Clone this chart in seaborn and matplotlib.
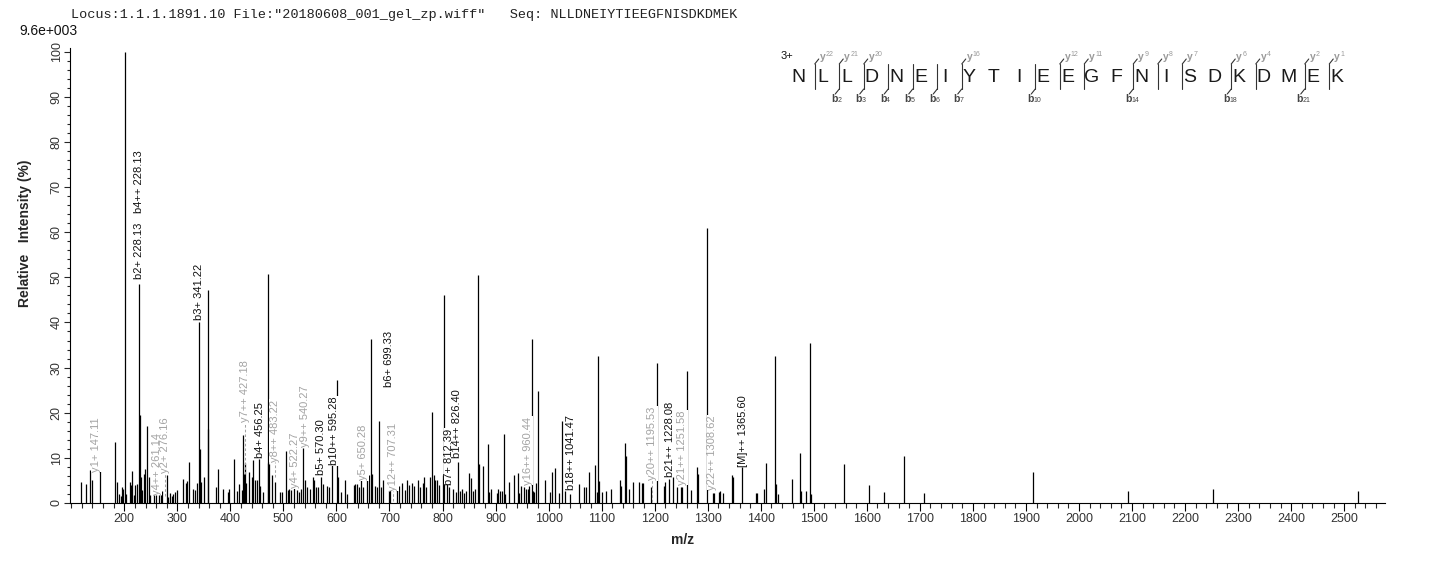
import numpy as np
import pandas as pd
import matplotlib
matplotlib.use("Agg")
import matplotlib.pyplot as plt
import seaborn as sns
from matplotlib.ticker import MultipleLocator, FixedLocator

HEADER = 'Locus:1.1.1.1891.10 File:"20180608_001_gel_zp.wiff"   Seq: NLLDNEIYTIEEGFNISDKDMEK'
BASE_PEAK = "9.6e+003"
SEQUENCE = "NLLDNEIYTIEEGFNISDKDMEK"
CHARGE = "3+"

# peak list (m/z, relative intensity %)
peak_mz = [
    118.3, 128.3, 135.9, 139.0, 154.7, 182.5, 186.2, 190.0, 193.0, 195.0, 197.5, 201.0, 202.6,
    210.0, 212.6, 215.0, 217.7, 220.0, 224.0, 228.1, 229.5, 231.5, 234.0, 236.6, 239.0, 242.8,
    247.0, 249.0, 256.0, 259.8, 264.9, 268.7, 271.7, 280.0, 283.0, 286.0, 289.4, 292.4, 295.6,
    298.8, 311.0, 315.7, 318.8, 322.6, 330.0, 333.3, 337.0, 341.2, 342.5, 343.8, 351.0, 357.2,
    358.4, 372.0, 377.3, 386.7, 395.0, 397.5, 407.4, 412.0, 416.9, 421.4, 423.2, 425.0, 427.6,
    430.0, 435.7, 440.3, 443.5, 446.0, 449.6, 453.4, 456.5, 462.2, 471.0, 471.6, 473.5, 478.5,
    484.8, 493.6, 498.0, 505.0, 509.3, 511.1, 514.3, 520.0, 525.1, 529.4, 532.6, 537.6, 540.8,
    545.1, 550.2, 555.3, 558.3, 560.9, 565.9, 570.3, 575.3, 582.8, 586.6, 591.0, 601.7, 603.6,
    608.1, 616.0, 620.6, 633.0, 635.7, 639.5, 643.2, 645.8, 649.6, 657.1, 660.9, 664.6, 667.1,
    672.2, 677.1, 680.9, 683.5, 688.4, 698.6, 701.0, 713.6, 718.0, 723.1, 729.3, 732.5, 736.3,
    743.1, 746.9, 753.2, 757.6, 762.7, 765.7, 768.9, 776.5, 780.2, 784.0, 786.5, 789.1, 792.9,
    800.4, 803.5, 808.0, 812.3, 820.4, 824.9, 829.9, 833.0, 836.2, 840.6, 844.4, 849.4, 854.4,
    858.2, 862.0, 867.6, 869.5, 877.0, 885.8, 888.3, 891.5, 902.2, 904.1, 908.5, 912.3, 916.6,
    918.5, 926.0, 934.9, 941.8, 943.7, 948.6, 953.7, 957.5, 960.7, 963.7, 968.2, 970.1, 972.6,
    976.9, 980.7, 992.8, 1002.7, 1006.0, 1012.8, 1020.3, 1024.8, 1031.1, 1040.5, 1058.0, 1066.9,
    1070.6, 1076.9, 1088.2, 1091.9, 1093.8, 1095.7, 1100.2, 1107.8, 1117.2, 1134.7, 1136.6,
    1144.7, 1146.0, 1152.3, 1160.0, 1170.6, 1176.8, 1178.7, 1193.8, 1203.9, 1217.7, 1219.6,
    1227.8, 1235.3, 1241.7, 1249.2, 1251.1, 1260.5, 1269.2, 1280.5, 1282.5, 1298.8, 1309.5,
    1312.0, 1320.9, 1323.3, 1329.6, 1346.5, 1348.5, 1364.2, 1390.6, 1393.6, 1406.8, 1410.0,
    1427.6, 1429.5, 1432.1, 1458.5, 1474.8, 1476.6, 1484.9, 1493.6, 1495.5, 1557.7, 1604.9,
    1633.2, 1670.9, 1708.6, 1914.2, 2093.3, 2253.6, 2526.6,
]
peak_int = [
    4.7, 4.2, 7.3, 5.1, 7.5, 13.5, 4.7, 2.0, 1.5, 3.6, 3.2, 100.0, 2.1,
    4.7, 3.9, 7.2, 1.7, 3.9, 4.1, 48.5, 19.5, 5.8, 2.9, 6.4, 7.5, 17.1,
    5.8, 1.8, 1.7, 1.7, 1.7, 1.7, 2.7, 6.2, 1.4, 2.3, 1.6, 2.1, 2.5,
    2.9, 5.3, 4.4, 4.9, 9.1, 3.2, 2.9, 4.4, 40.0, 11.9, 4.7, 5.8, 16.4,
    47.2, 3.5, 7.6, 3.2, 2.5, 3.2, 9.7, 2.7, 4.2, 2.9, 15.1, 6.4, 8.8,
    4.4, 6.9, 5.8, 9.6, 5.2, 5.1, 9.7, 3.8, 2.4, 8.8, 50.7, 8.6, 6.2,
    4.7, 2.4, 2.4, 11.6, 2.9, 3.2, 2.9, 8.3, 2.9, 2.5, 3.2, 12.1, 5.1,
    3.5, 3.2, 5.8, 5.1, 3.6, 3.5, 5.8, 4.2, 3.8, 3.5, 9.2, 27.3, 5.8,
    2.5, 5.1, 2.1, 3.9, 4.1, 4.1, 3.5, 5.4, 3.6, 6.6, 6.2, 36.3, 6.4,
    3.8, 3.5, 18.2, 3.6, 5.1, 3.8, 4.0, 3.7, 3.8, 4.4, 2.9, 5.1, 4.0,
    4.4, 3.8, 5.1, 3.6, 4.4, 5.8, 3.6, 5.8, 20.1, 6.2, 5.1, 5.1, 4.0,
    6.2, 46.0, 4.4, 3.6, 3.0, 2.5, 9.0, 2.7, 3.0, 2.3, 2.7, 6.6, 5.5,
    2.7, 3.0, 50.5, 8.6, 8.3, 13.1, 2.5, 3.2, 2.3, 3.0, 2.7, 2.7, 15.3,
    2.1, 4.7, 6.2, 6.6, 2.3, 3.8, 3.5, 3.2, 3.0, 3.8, 36.3, 2.7, 2.5,
    4.5, 24.8, 5.1, 2.5, 6.9, 7.7, 2.3, 18.2, 2.7, 2.0, 4.2, 3.5,
    3.5, 6.8, 8.4, 2.5, 32.6, 4.9, 2.4, 2.7, 3.1, 5.1, 3.8,
    13.2, 10.5, 3.1, 4.7, 4.7, 4.4, 4.4, 3.6, 31.1, 3.8, 4.7,
    5.3, 5.8, 3.5, 3.5, 3.5, 29.2, 2.9, 8.0, 6.4, 60.9, 2.3,
    2.3, 2.5, 2.7, 2.3, 6.1, 5.8, 8.0, 2.3, 2.3, 3.2, 8.8,
    32.6, 4.2, 2.0, 5.3, 11.0, 2.7, 2.7, 35.5, 2.0, 8.6, 4.0,
    2.4, 10.4, 2.3, 6.9, 2.7, 3.1, 2.7,
]

# fragment annotations on the spectrum
label_text = [
    "y1+ 147.11", "b2+ 228.13", "b4++ 228.13", "y4++ 261.14", "y2+ 276.16", "b3+ 341.22",
    "y7++ 427.18", "b4+ 456.25", "y8++ 483.22", "y4+ 522.27", "y9++ 540.27", "b5+ 570.30",
    "b10++ 595.28", "y5+ 650.28", "b6+ 699.33", "y12++ 707.31", "b7+ 812.39",
    "b14++ 826.40", "y16++ 960.44", "b18++ 1041.47", "y20++ 1195.53", "b21++ 1228.08",
    "y21++ 1251.58", "y22++ 1308.62", "[M]++ 1365.60",
]
label_mz = [
    147.11, 228.13, 228.13, 261.14, 276.16, 341.22, 427.18, 456.25, 483.22, 522.27, 540.27,
    570.30, 595.28, 650.28, 699.33, 707.31, 812.39, 826.40, 960.44, 1041.47, 1195.53,
    1228.08, 1251.58, 1308.62, 1365.60,
]
label_start = [
    6.9, 49.7, 64.2, 1.8, 6.7, 40.5, 17.9, 9.9, 9.1, 3.3, 12.4, 6.2,
    8.4, 5.1, 25.8, 2.7, 4.0, 10.0, 4.0, 2.9, 5.1, 5.8, 4.0, 2.9, 8.0,
]
label_kind = [
    "y", "b", "b", "y", "y", "b", "y", "b", "y", "y", "y", "b",
    "b", "y", "b", "y", "b", "b", "y", "b", "y", "b", "y", "y", "b",
]
# dashed leader from label down to the matched peak (None = no leader)
label_leader = [
    None, None, None, None, 1.5, None, 6.5, None, 5.8, None, None, None,
    None, None, None, 0.4, None, None, None, None, 0.3, None, None, None, None,
]

# cleavage sites in the sequence header
b_sites = [2, 3, 4, 5, 6, 7, 10, 14, 18, 21]
b_names = ["2", "3", "4", "5", "6", "7", "10", "14", "18", "21"]
y_sites = [1, 2, 3, 7, 11, 12, 14, 15, 16, 18, 19, 21, 22]
y_names = ["22", "21", "20", "16", "12", "11", "9", "8", "7", "6", "4", "2", "1"]


def main():
    sns.set_style("ticks")
    plt.rcParams["font.family"] = ["Liberation Sans", "DejaVu Sans"]

    df = pd.DataFrame({"mz": peak_mz, "intensity": peak_int})
    labels = pd.DataFrame({"text": label_text, "mz": label_mz, "start": label_start,
                           "kind": label_kind, "leader": label_leader})

    W, H = 1436, 562
    fig = plt.figure(figsize=(W / 100, H / 100), dpi=100)
    fig.patch.set_facecolor("white")

    left, right, bottom, top = 70, 1385, 503, 48
    ax = fig.add_axes([left / W, 1 - bottom / H, (right - left) / W, (bottom - top) / H])
    ax.set_facecolor("white")

    ax.vlines(df["mz"], 0, df["intensity"], colors="black", linewidth=0.9, zorder=2)

    grey = "#a3a3a3"
    for _, r in labels.iterrows():
        col = "#111111" if r["kind"] == "b" else grey
        if r["leader"] is not None and not pd.isna(r["leader"]):
            ax.vlines(r["mz"], r["leader"], r["start"], colors=grey, linewidth=0.75,
                      linestyles=(0, (2.5, 2)), zorder=2.5)
        ax.text(r["mz"], r["start"], r["text"], rotation=90, ha="center", va="bottom",
                fontsize=8, color=col, zorder=3,
                bbox=dict(facecolor="white", edgecolor="none", pad=0.4))

    ax.set_xlim(97.6, 2577)
    ax.set_ylim(0, 100.8)

    ax.xaxis.set_major_locator(FixedLocator(np.arange(200, 2501, 100)))
    ax.xaxis.set_minor_locator(FixedLocator(np.arange(100, 2561, 20)))
    ax.yaxis.set_major_locator(MultipleLocator(10))
    ax.yaxis.set_minor_locator(MultipleLocator(2))

    ax.tick_params(axis="x", which="major", length=6, width=0.8, direction="out",
                   labelsize=9, pad=1.5, colors="black", labelcolor="#333333")
    ax.tick_params(axis="x", which="minor", length=3.8, width=0.8, direction="out")
    ax.tick_params(axis="y", which="major", length=4.3, width=0.8, direction="out",
                   labelsize=9, pad=1.0, labelrotation=90, labelcolor="#333333")
    ax.tick_params(axis="y", which="minor", length=2.4, width=0.8, direction="out")
    for lbl in ax.get_yticklabels():
        lbl.set_verticalalignment("center")

    sns.despine(ax=ax)
    for s in ("left", "bottom"):
        ax.spines[s].set_linewidth(0.8)
        ax.spines[s].set_color("black")

    ax.set_xlabel("m/z", fontsize=10, fontweight="bold")
    ax.xaxis.set_label_coords((683 - left) / (right - left), (bottom - 533) / (bottom - top))
    ax.set_ylabel("Relative   Intensity (%)", fontsize=10, fontweight="bold")
    ax.yaxis.set_label_coords((32 - left) / (right - left), (bottom - 233) / (bottom - top))

    # overlay in pixel coordinates for header and sequence annotation
    ov = fig.add_axes([0, 0, 1, 1])
    ov.set_xlim(0, W)
    ov.set_ylim(H, 0)
    ov.axis("off")

    ov.text(71, 15, HEADER, fontsize=9.7, family="Liberation Mono", color="#222222",
            ha="left", va="center")
    ov.text(19, 31, BASE_PEAK, fontsize=10, color="#111111", ha="left", va="center")
    ov.text(787, 56, CHARGE, fontsize=8, color="#111111", ha="center", va="center")

    x0, step, ymid = 798, 24.5, 77
    for i, ch in enumerate(SEQUENCE):
        ov.text(x0 + i * step, ymid, ch, fontsize=14, color="#1a1a1a", ha="center", va="center")

    def site_x(k):
        return x0 + (k - 0.5) * step + 4.5

    bar_top, bar_bot = 64, 89
    for k in sorted(set(b_sites) | set(y_sites)):
        bx = site_x(k)
        ov.plot([bx, bx], [bar_top, bar_bot], color="#333333", lw=0.8)
    for k, name in zip(y_sites, y_names):
        bx = site_x(k)
        ov.plot([bx, bx + 4], [bar_top, bar_top - 5], color="#333333", lw=0.8)
        ov.text(bx + 8, 57, "y", fontsize=7.5, color="#9a9a9a", ha="center", va="center",
                fontweight="bold")
        ov.text(bx + 11, 55, name, fontsize=5, color="#9a9a9a", ha="left", va="center")
    for k, name in zip(b_sites, b_names):
        bx = site_x(k)
        ov.plot([bx, bx - 4], [bar_bot, bar_bot + 5], color="#333333", lw=0.8)
        ov.text(bx - 5, 99, "b", fontsize=7.5, color="#444444", ha="center", va="center",
                fontweight="bold")
        ov.text(bx - 2, 101, name, fontsize=5, color="#444444", ha="left", va="center")

    fig.savefig("out.png", dpi=100, facecolor="white")
    plt.close(fig)


if __name__ == "__main__":
    main()
